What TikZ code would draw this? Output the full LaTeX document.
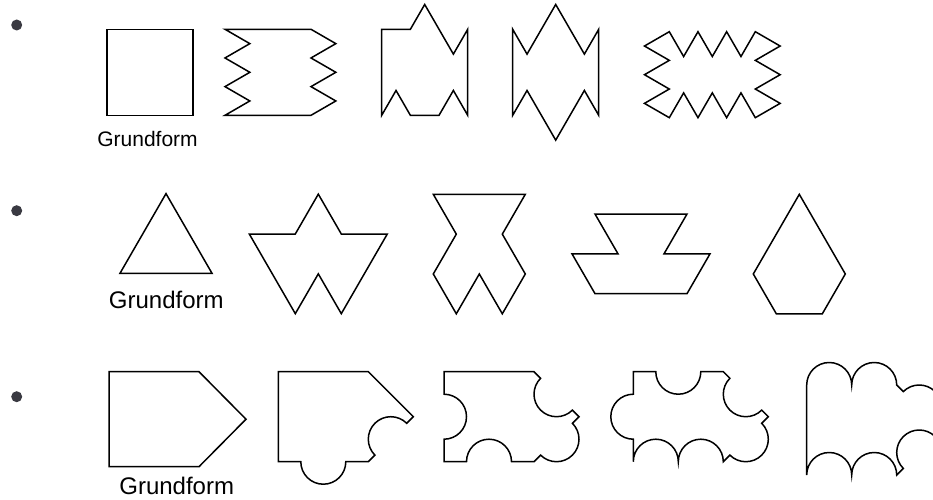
\documentclass[tikz,border=0pt]{standalone}
\usepackage{fontspec}
\setmainfont{Liberation Sans}
\definecolor{colbullet}{HTML}{3A3A42}
\tikzset{
    tile/.style={draw=black, line width=1.5pt, line join=miter},
    bullet dot/.style={circle, fill=colbullet, inner sep=0pt, minimum size=11pt},
    base label/.style={anchor=base, inner sep=0pt, font=\fontsize{24}{28}\selectfont},
    small label/.style={base label, font=\fontsize{21}{25}\selectfont},
}

\begin{document}
\begin{tikzpicture}[x=1pt, y=1pt]

\useasboundingbox (0,0) rectangle (933,499);
\clip (0,0) rectangle (933,499);

% ===== BULLETS =====
\node[bullet dot] (bulletA) at (16.7, 474.0) {};
\node[bullet dot] (bulletB) at (16.7, 288.3) {};
\node[bullet dot] (bulletC) at (16.7, 102.3) {};

% ===== LABELS =====
\node[small label] (baseA) at (147.5, 352.3) {Grundform};
\node[base label] (baseB) at (166.3, 190.7) {Grundform};
\node[base label] (baseC) at (176.7, 4.5) {Grundform};

% ===== ROW 1: SQUARE =====
\draw[tile] (107,383.7) rectangle (193,469.7);
\begin{scope}[shift={(225,383.7)}]
\draw[tile] (0,0) -- (24.83,14.33) -- (0,28.67) -- (24.83,43) -- (0,57.33) -- (24.83,71.67) -- (0,86)
    -- (86,86) -- (110.83,71.67) -- (86,57.33) -- (110.83,43) -- (86,28.67) -- (110.83,14.33) -- (86,0) -- cycle;
\end{scope}
\begin{scope}[shift={(381.7,383.7)}]
\draw[tile] (0,0) -- (14.33,24.83) -- (28.67,0) -- (57.33,0) -- (71.67,24.83) -- (86,0) -- (86,86)
    -- (71.67,61.17) -- (43,110.83) -- (28.67,86) -- (0,86) -- cycle;
\end{scope}
\begin{scope}[shift={(512.7,383.7)}]
\draw[tile] (0,0) -- (14.33,24.83) -- (43,-24.83) -- (71.67,24.83) -- (86,0) -- (86,86)
    -- (71.67,61.17) -- (43,110.83) -- (14.33,61.17) -- (0,86) -- cycle;
\end{scope}
\begin{scope}[shift={(669.3,381.3)}]
\draw[tile] (0,0) -- (-24.83,14.33) -- (0,28.67) -- (-24.83,43) -- (0,57.33) -- (-24.83,71.67) -- (0,86)
    -- (14.33,61.17) -- (28.67,86) -- (43,61.17) -- (57.33,86) -- (71.67,61.17) -- (86,86)
    -- (110.83,71.67) -- (86,57.33) -- (110.83,43) -- (86,28.67) -- (110.83,14.33) -- (86,0)
    -- (71.67,24.83) -- (57.33,0) -- (43,24.83) -- (28.67,0) -- (14.33,24.83) -- cycle;
\end{scope}

% ===== ROW 2: TRIANGLE =====
\begin{scope}[shift={(120,225.7)}]
\draw[tile] (0,0) -- (92,0) -- (46,79.67) -- cycle;
\end{scope}
\begin{scope}[shift={(249.3,265)}]
\draw[tile] (0,0) -- (46,0) -- (69,39.84) -- (92,0) -- (138,0) -- (92,-79.67) -- (69,-39.84) -- (46,-79.67) -- cycle;
\end{scope}
\begin{scope}[shift={(433.3,304.7)}]
\draw[tile] (0,0) -- (92,0) -- (69,-39.84) -- (92,-79.67) -- (69,-119.5) -- (46,-79.67) -- (23,-119.5)
    -- (0,-79.67) -- (23,-39.84) -- cycle;
\end{scope}
\begin{scope}[shift={(595,285)}]
\draw[tile] (0,0) -- (92,0) -- (69,-39.84) -- (115,-39.84) -- (92,-79.67) -- (0,-79.67) -- (-23,-39.84) -- (23,-39.84) -- cycle;
\end{scope}
\begin{scope}[shift={(799.3,304.7)}]
\draw[tile] (0,0) -- (46,-79.67) -- (23,-119.5) -- (-23,-119.5) -- (-46,-79.67) -- cycle;
\end{scope}

% ===== ROW 3: PENTAGON =====
\begin{scope}[shift={(109,32.3)}]
\draw[tile] (0,0) -- (90,0) -- (137,47.5) -- (90,95) -- (0,95) -- cycle;
\end{scope}
\begin{scope}[shift={(278.3,37.3)}]
\draw[tile] (0,0) -- (0,90) -- (90,90) -- (135,45) -- (128.41,38.41)
    arc[start angle=45, end angle=225, radius=22.5] -- (90,0) -- (67.5,0)
    arc[start angle=0, end angle=-180, radius=22.5] -- cycle;
\end{scope}
\begin{scope}[shift={(444,37.3)}]
\draw[tile] (0,0) -- (0,22.5) arc[start angle=-90, end angle=90, radius=22.5] -- (0,90) -- (90,90)
    -- (96.59,83.41) arc[start angle=135, end angle=315, radius=22.5] -- (135,45) -- (128.41,38.41)
    arc[start angle=45, end angle=-135, radius=22.5] -- (90,0) -- (67.5,0)
    arc[start angle=0, end angle=180, radius=22.5] -- cycle;
\end{scope}
\begin{scope}[shift={(633.3,37.3)}]
\draw[tile] (0,0) -- (0,22.5) arc[start angle=-90, end angle=-270, radius=22.5] -- (0,90) -- (22.5,90)
    arc[start angle=180, end angle=360, radius=22.5] -- (90,90)
    -- (96.59,83.41) arc[start angle=135, end angle=315, radius=22.5] -- (135,45) -- (128.41,38.41)
    arc[start angle=45, end angle=-135, radius=22.5] -- (90,0)
    arc[start angle=0, end angle=180, radius=22.5]
    arc[start angle=0, end angle=180, radius=22.5] -- cycle;
\end{scope}
\begin{scope}[shift={(806.7,24)}]
\draw[tile] (0,0) -- (0,90) arc[start angle=180, end angle=0, radius=22.5]
    arc[start angle=180, end angle=0, radius=22.5]
    -- (96.59,83.41) arc[start angle=135, end angle=-45, radius=22.5] -- (135,45) -- (128.41,38.41)
    arc[start angle=45, end angle=225, radius=22.5] -- (90,0)
    arc[start angle=0, end angle=180, radius=22.5]
    arc[start angle=0, end angle=180, radius=22.5] -- cycle;
\end{scope}

\end{tikzpicture}
\end{document}
